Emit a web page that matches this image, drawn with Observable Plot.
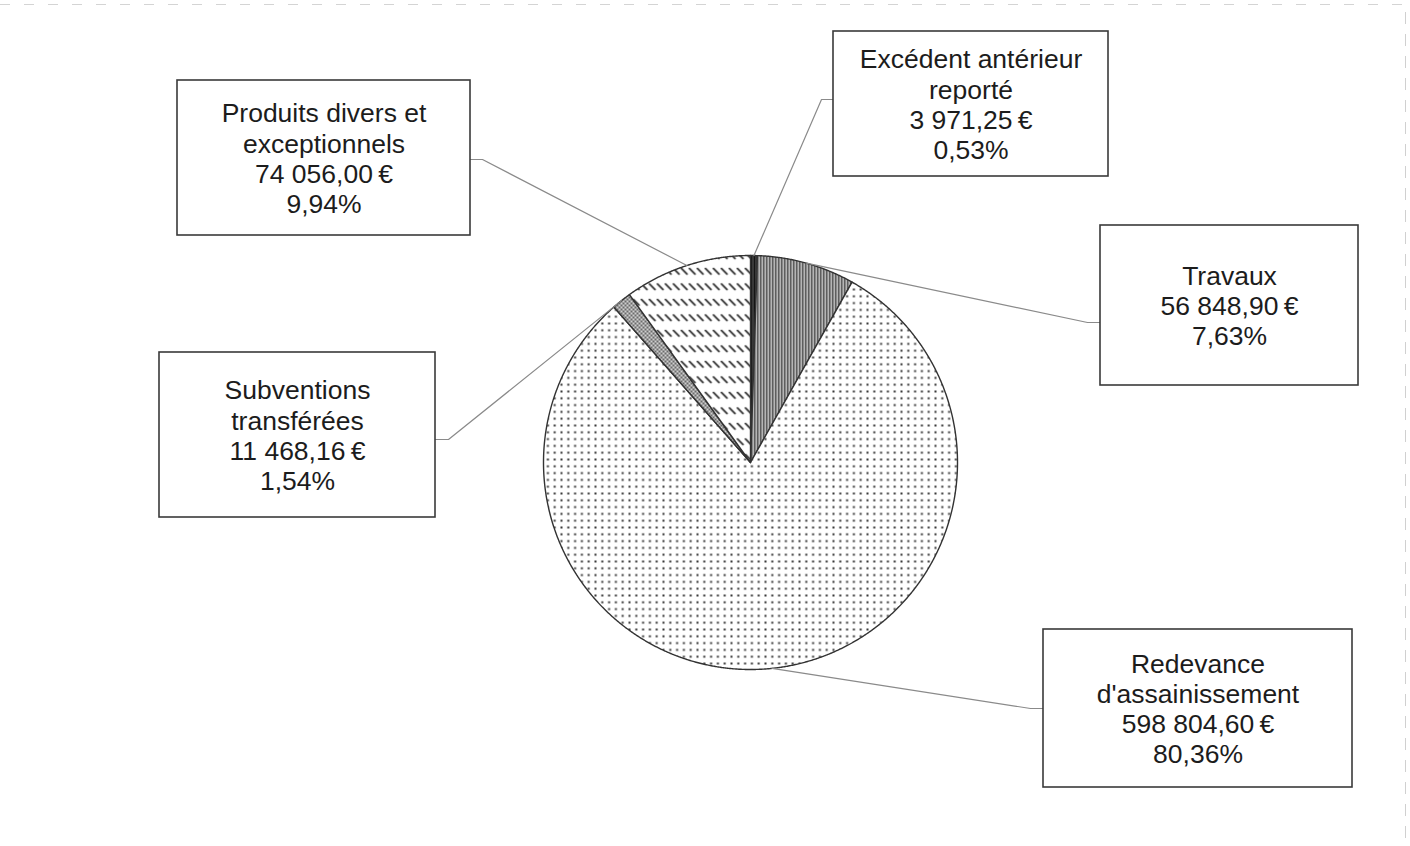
<!DOCTYPE html>
<html><head><meta charset="utf-8">
<script src="https://cdn.jsdelivr.net/npm/d3@7"></script>
<script src="https://cdn.jsdelivr.net/npm/@observablehq/plot@0.6"></script>
<style>body{margin:0;background:#fff} svg{display:block}</style>
</head><body><div id="chart"></div>
<script>
// ---- data ----
const categories = ["Excédent antérieur reporté", "Travaux", "Redevance d'assainissement", "Subventions transférées", "Produits divers et exceptionnels"];
const labelLines = [["Excédent antérieur", "reporté"], ["Travaux"], ["Redevance", "d'assainissement"], ["Subventions", "transférées"], ["Produits divers et", "exceptionnels"]];
const values = [3971.25, 56848.90, 598804.60, 11468.16, 74056.00];
const amountLabels = ["3 971,25\u2009€", "56 848,90\u2009€", "598 804,60\u2009€", "11 468,16\u2009€", "74 056,00\u2009€"];
const percentLabels = ["0,53%", "7,63%", "80,36%", "1,54%", "9,94%"];

// ---- layout (pixels) ----
const W = 1410, H = 846;
const cx = 750, cy = 462, R = 207;
const boxes = [
  {x1: 833, x2: 1108, y1: 31, y2: 176, ax: 833, ay: 99, sx: 821},
  {x1: 1100, x2: 1358, y1: 225, y2: 385, ax: 1100, ay: 322, sx: 1087},
  {x1: 1043, x2: 1352, y1: 629, y2: 787, ax: 1043, ay: 708, sx: 1030},
  {x1: 159, x2: 435, y1: 352, y2: 517, ax: 435, ay: 439, sx: 448},
  {x1: 177, x2: 470, y1: 80, y2: 235, ax: 470, ay: 159, sx: 482}
];
const patternIds = ["p-exc", "p-trav", "p-redev", "p-subv", "p-prod"];

// ---- derived geometry ----
const total = d3.sum(values);
let cum = 0;
const slices = values.map((v, i) => {
  const a0 = cum / total * 2 * Math.PI;
  cum += v;
  const a1 = cum / total * 2 * Math.PI;
  const pts = [{x: cx, y: cy}];
  const n = Math.max(2, Math.ceil((a1 - a0) / 0.005));
  for (let k = 0; k <= n; k++) {
    const a = a0 + (a1 - a0) * k / n;
    pts.push({x: cx + R * Math.sin(a), y: cy - R * Math.cos(a)});
  }
  pts.push({x: cx, y: cy});
  return {i, a0, a1, pts};
});

const leaders = [];
slices.forEach((s, i) => {
  const am = (s.a0 + s.a1) / 2;
  const b = boxes[i];
  leaders.push({z: i, x: b.ax, y: b.ay});
  leaders.push({z: i, x: b.sx, y: b.ay});
  leaders.push({z: i, x: cx + R * Math.sin(am), y: cy - R * Math.cos(am)});
});

const labels = categories.map((c, i) => ({
  x: (boxes[i].x1 + boxes[i].x2) / 2,
  y: (boxes[i].y1 + boxes[i].y2) / 2,
  text: [...labelLines[i], amountLabels[i], percentLabels[i]].join("\n")
}));

const chart = Plot.plot({
  width: W, height: H,
  margin: 0,
  x: {domain: [0, W], range: [0, W], axis: null},
  y: {domain: [0, H], range: [0, H], axis: null},
  style: {fontFamily: "'Liberation Sans', Arial, sans-serif", background: "#fff"},
  marks: [
    Plot.ruleY([4], {stroke: "#d4d4d4", strokeDasharray: "10,14", strokeWidth: 1}),
    Plot.ruleX([1405], {y1: 12, y2: H, stroke: "#d0d0d0", strokeDasharray: "12,10", strokeWidth: 1}),
    ...slices.map(s => Plot.line(s.pts, {x: "x", y: "y", fill: `url(#${patternIds[s.i]})`, stroke: "#333", strokeWidth: 1.4, curve: "linear"})),
    Plot.line(leaders, {x: "x", y: "y", z: "z", stroke: "#8a8a8a", strokeWidth: 1.2}),
    Plot.rect(boxes, {x1: "x1", x2: "x2", y1: "y1", y2: "y2", fill: "#fff", stroke: "#3a3a3a", strokeWidth: 1.6}),
    Plot.text(labels, {x: "x", y: "y", text: "text", fontSize: 26.5, lineHeight: 1.14, lineAnchor: "middle", textAnchor: "middle", fill: "#1c1c1c"})
  ]
});

// patterns
const ns = "http://www.w3.org/2000/svg";
const defs = document.createElementNS(ns, "defs");
defs.innerHTML = `
<pattern id="p-exc" patternUnits="userSpaceOnUse" width="3" height="6">
  <rect width="3" height="6" fill="#5a5a5a"/><rect width="2" height="6" fill="#151515"/>
</pattern>
<pattern id="p-trav" patternUnits="userSpaceOnUse" width="3" height="6">
  <rect width="3" height="6" fill="#e0e0e0"/><rect x="0.5" width="1.5" height="6" fill="#333"/>
</pattern>
<pattern id="p-redev" patternUnits="userSpaceOnUse" width="6.8" height="6.8">
  <rect width="6.8" height="6.8" fill="#fff"/><rect x="2.4" y="2.4" width="2" height="2" fill="#3a3a3a"/>
</pattern>
<pattern id="p-subv" patternUnits="userSpaceOnUse" width="4" height="4">
  <rect width="4" height="4" fill="#cfcfcf"/><circle cx="1" cy="1" r="0.9" fill="#3c3c3c"/><circle cx="3" cy="3" r="0.9" fill="#3c3c3c"/>
</pattern>
<pattern id="p-prod" patternUnits="userSpaceOnUse" width="8" height="15.5">
  <rect width="8" height="15.5" fill="#fff"/><line x1="1" y1="4.5" x2="6.5" y2="10" stroke="#2e2e2e" stroke-width="1.8" stroke-linecap="round"/>
</pattern>`;
chart.insertBefore(defs, chart.firstChild);
document.getElementById("chart").appendChild(chart);
</script>
</body></html>
